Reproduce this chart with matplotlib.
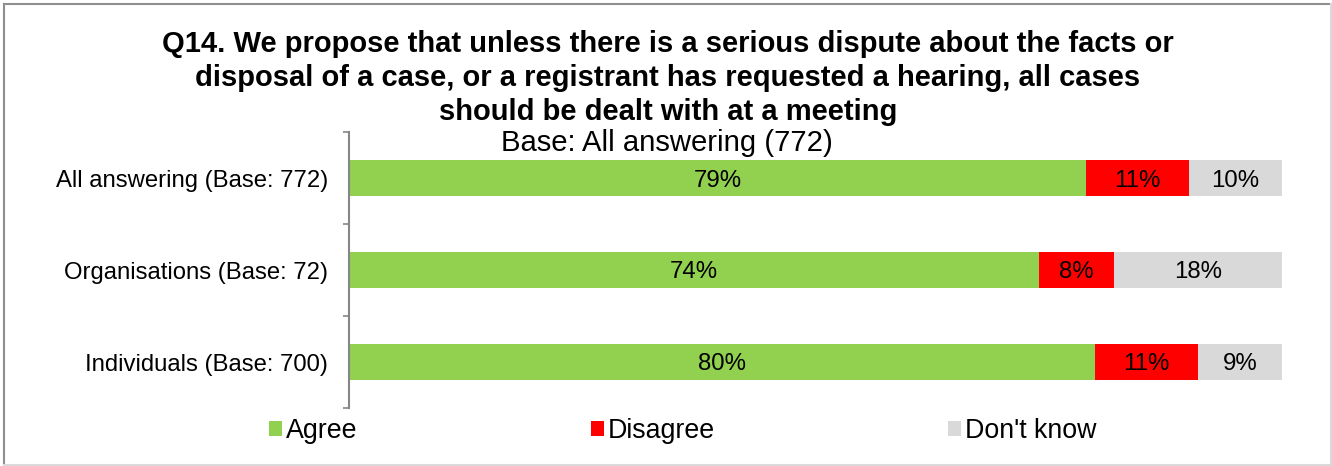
import matplotlib
matplotlib.use("Agg")
import matplotlib.pyplot as plt
from matplotlib.patches import Patch
from matplotlib.lines import Line2D

plt.rcParams['font.family'] = ['Liberation Sans', 'DejaVu Sans']

# Survey responses (% of respondents)
groups = ["All answering (Base: 772)", "Organisations (Base: 72)", "Individuals (Base: 700)"]
agree = [79, 74, 80]
disagree = [11, 8, 11]
dont_know = [10, 18, 9]
series_names = ["Agree", "Disagree", "Don't know"]
colors = ["#92D050", "#FF0000", "#D9D9D9"]

title = ("Q14. We propose that unless there is a serious dispute about the facts or\n"
         "disposal of a case, or a registrant has requested a hearing, all cases\n"
         "should be dealt with at a meeting")
subtitle = "Base: All answering (772)"

W, H = 1332, 466
fig = plt.figure(figsize=(W / 100, H / 100), dpi=100)
ax = fig.add_axes([349 / W, 1 - 408 / H, (1282 - 349) / W, (408 - 132) / H])

y = list(range(len(groups)))
left = [0] * len(groups)
for vals, name, col in zip([agree, disagree, dont_know], series_names, colors):
    bars = ax.barh(y, vals, left=left, height=0.4, color=col, label=name,
                   edgecolor="none")
    for b, v in zip(bars, vals):
        ax.text(b.get_x() + b.get_width() / 2, b.get_y() + b.get_height() / 2,
                f"{v}%", ha="center", va="center_baseline", fontsize=17.3, color="black")
    left = [l + v for l, v in zip(left, vals)]

ax.set_xlim(0, 100)
ax.set_ylim(len(groups) - 0.5, -0.5)
ax.set_yticks(y)
ax.set_yticklabels(groups, fontsize=17.2)
ax.set_yticks([i - 0.5 for i in range(len(groups) + 1)], minor=True)
ax.tick_params(axis="y", which="major", length=0, pad=15)
ax.tick_params(axis="y", which="minor", length=4, width=1.2, color="#868686", direction="out")
ax.set_xticks([])
for s in ["top", "right", "bottom"]:
    ax.spines[s].set_visible(False)
ax.spines["left"].set_color("#868686")
ax.spines["left"].set_linewidth(1.5)

fig.text(668 / W, 1 - 78 / H, title, ha="center", va="center", fontsize=21,
         fontweight="bold", linespacing=1.25)
fig.text(667 / W, 1 - 143 / H, subtitle, ha="center", va="center", fontsize=21.1)

handles = [Patch(facecolor=c, edgecolor="none") for c in colors]
fig.legend(handles, series_names, loc="center", bbox_to_anchor=(683 / W, 1 - 431 / H),
           ncol=3, frameon=False, fontsize=19.3, handlelength=0.48, handleheight=0.48,
           handletextpad=0.15, columnspacing=8.7, borderpad=0)

# chart frame
fig.add_artist(Line2D([4 / W, 1330 / W], [1 - 4 / H, 1 - 4 / H], color="#8f8f8f", lw=1.5,
                      transform=fig.transFigure))
fig.add_artist(Line2D([4 / W, 4 / W], [1 - 4 / H, 1 - 464 / H], color="#8f8f8f", lw=1.5,
                      transform=fig.transFigure))
fig.add_artist(Line2D([1331 / W, 1331 / W], [1 - 4 / H, 1 - 464 / H], color="#d9d9d9", lw=1.5,
                      transform=fig.transFigure))
fig.add_artist(Line2D([4 / W, 1331 / W], [1 - 464.5 / H, 1 - 464.5 / H], color="#d9d9d9", lw=1.5,
                      transform=fig.transFigure))

fig.savefig("out.png", dpi=100)
